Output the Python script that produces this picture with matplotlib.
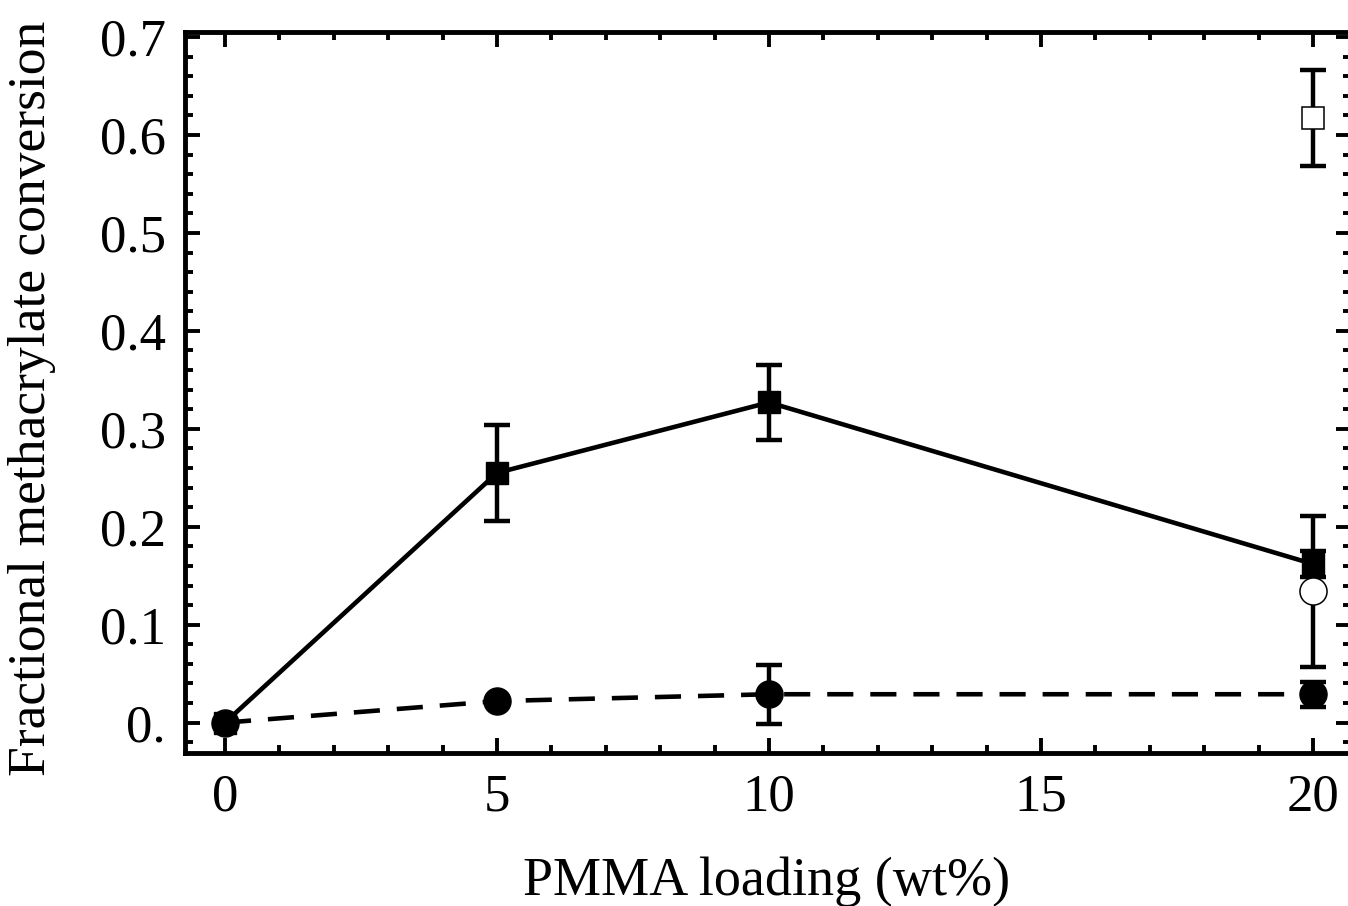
import matplotlib.pyplot as plt
import numpy as np
from matplotlib.ticker import MultipleLocator, FixedFormatter, FixedLocator

plt.rcParams['font.family'] = ['Liberation Serif', 'DejaVu Serif']

# PMMA loading (wt%)
loading = np.array([0, 5, 10, 20])

# filled squares, solid line
conv_sq = np.array([0.0, 0.255, 0.327, 0.162])
err_sq = np.array([0.0, 0.049, 0.038, 0.013])

# filled circles, dashed line
conv_ci = np.array([0.0, 0.022, 0.029, 0.029])
err_ci = np.array([0.0, 0.0, 0.030, 0.013])

# single open points at 20 wt%
open_sq_x, open_sq_y, open_sq_err = 20, 0.617, 0.049
open_ci_x, open_ci_y, open_ci_err = 20, 0.134, 0.077

yticks = [0.0, 0.1, 0.2, 0.3, 0.4, 0.5, 0.6, 0.7]
ytick_labels = ['0.', '0.1', '0.2', '0.3', '0.4', '0.5', '0.6', '0.7']

W, H = 1348, 906
fig = plt.figure(figsize=(W / 100, H / 100), dpi=100)
ax = fig.add_axes([185 / W, (H - 753) / H, (1351 - 185) / W, (753 - 32) / H])

eb = dict(fmt='none', ecolor='black', elinewidth=3.2, capsize=9.6, capthick=3.2, zorder=2)

ax.plot(loading, conv_sq, color='black', lw=3.3, zorder=1)
m = err_sq > 0
ax.errorbar(loading[m], conv_sq[m], yerr=err_sq[m], **eb)
ax.plot(loading, conv_sq, 's', color='black', ms=16.5, zorder=3)

ax.plot(loading, conv_ci, color='black', lw=3.3, dashes=(5.7, 3.7), zorder=1)
m = err_ci > 0
ax.errorbar(loading[m], conv_ci[m], yerr=err_ci[m], **eb)
ax.plot(loading, conv_ci, 'o', color='black', ms=19.5, zorder=3)

ax.errorbar(open_sq_x, open_sq_y, yerr=open_sq_err, **eb)
ax.plot(open_sq_x, open_sq_y, 's', mfc='white', mec='black', mew=1.1, ms=16.5, zorder=3)
ax.errorbar(open_ci_x, open_ci_y, yerr=open_ci_err, **eb)
ax.plot(open_ci_x, open_ci_y, 'o', mfc='white', mec='black', mew=1.1, ms=19.5, zorder=3)

ax.set_xlim(-0.735, 20.70)
ax.set_ylim(-0.031, 0.7052)

ax.xaxis.set_major_locator(MultipleLocator(5))
ax.xaxis.set_minor_locator(MultipleLocator(1))
ax.yaxis.set_major_locator(FixedLocator(yticks))
ax.yaxis.set_major_formatter(FixedFormatter(ytick_labels))
ax.yaxis.set_minor_locator(MultipleLocator(0.02))

for s in ax.spines.values():
    s.set_linewidth(3.5)

ax.tick_params(which='both', direction='in', top=True, right=True, width=2.8, labelsize=38)
ax.tick_params(which='major', length=10.5)
ax.tick_params(which='minor', length=6)
ax.tick_params(axis='x', pad=15)
ax.tick_params(axis='y', pad=14)

ax.set_xlabel('PMMA loading (wt%)', fontsize=39, va='baseline')
ax.xaxis.set_label_coords(0.499, -0.197)
ax.set_ylabel('Fractional methacrylate conversion', fontsize=38.5, va='center')
ax.yaxis.set_label_coords(-0.131, 0.4917)

fig.savefig('out.png', dpi=100)
